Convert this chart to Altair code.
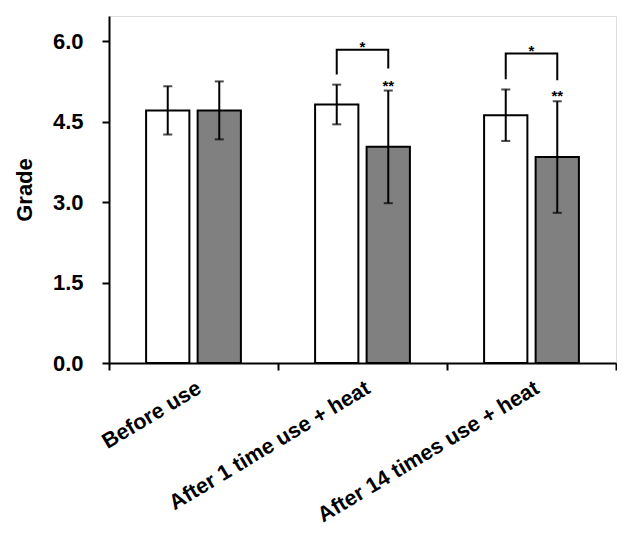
import altair as alt
import pandas as pd

categories = ["Before use", "After 1 time use + heat", "After 14 times use + heat"]
series = ["Series 1", "Series 2"]
white_means = [4.71, 4.82, 4.62]
white_err = [0.45, 0.37, 0.48]
gray_means = [4.71, 4.03, 3.84]
gray_err = [0.54, 1.05, 1.04]

# significance brackets (groups 2 and 3)
bracket_cats = ["After 1 time use + heat", "After 14 times use + heat"]
bracket_top = [5.84, 5.77]
bracket_left_bottom = [5.38, 5.29]
bracket_right_bottom = [5.49, 5.27]
bracket_label = ["*", "*"]
gray_label = ["**", "**"]

rows = []
for i, c in enumerate(categories):
    rows.append(dict(cat=c, ser=series[0], mean=white_means[i],
                     lo=white_means[i] - white_err[i], hi=white_means[i] + white_err[i]))
    rows.append(dict(cat=c, ser=series[1], mean=gray_means[i],
                     lo=gray_means[i] - gray_err[i], hi=gray_means[i] + gray_err[i]))
df = pd.DataFrame(rows)

br = []
for j, c in enumerate(bracket_cats):
    br.append(dict(cat=c, ser=series[0], y=bracket_left_bottom[j], o=0))
    br.append(dict(cat=c, ser=series[0], y=bracket_top[j], o=1))
    br.append(dict(cat=c, ser=series[1], y=bracket_top[j], o=2))
    br.append(dict(cat=c, ser=series[1], y=bracket_right_bottom[j], o=3))
br_df = pd.DataFrame(br)

star_df = pd.DataFrame(dict(cat=bracket_cats, y=bracket_top, t=bracket_label))
dstar_df = pd.DataFrame(dict(cat=bracket_cats, ser=[series[1]] * 2,
                             y=[gray_means[i] + gray_err[i] for i in (1, 2)], t=gray_label))

FONT = "Liberation Sans"

x_enc = alt.X("cat:N", sort=categories,
              scale=alt.Scale(paddingInner=0, paddingOuter=0),
              axis=alt.Axis(title=None, labelAngle=-31, labelAlign="right",
                            labelBaseline="top", tickBand="extent", tickSize=7,
                            tickWidth=2, tickColor="black", domainColor="black",
                            domainWidth=2, labelPadding=7, labelFont=FONT,
                            labelFontSize=21.5, labelFontWeight="bold",
                            labelColor="black", labelOverlap=False, labelLimit=0))
xo_enc = alt.XOffset("ser:N", sort=series,
                     scale=alt.Scale(paddingInner=0.16, paddingOuter=0.72))
y_scale = alt.Scale(domain=[0, 6.47], nice=False, zero=True)
y_enc = alt.Y("mean:Q", scale=y_scale,
              axis=alt.Axis(title="Grade", values=[0, 1.5, 3.0, 4.5, 6.0], format=".1f",
                            grid=False, tickSize=7, tickWidth=2, tickColor="black",
                            domainColor="black", domainWidth=2, labelPadding=19,
                            labelFont=FONT, labelFontSize=22, labelFontWeight="bold",
                            labelColor="black", titleFont=FONT, titleFontSize=22,
                            titleFontWeight="bold", titleColor="black", titlePadding=16))

bars = alt.Chart(df).mark_bar(stroke="black", strokeWidth=2).encode(
    x=x_enc, xOffset=xo_enc, y=y_enc,
    color=alt.Color("ser:N", scale=alt.Scale(domain=series, range=["white", "#808080"]),
                    legend=None))

err = alt.Chart(df).mark_rule(color="black", strokeWidth=2).encode(
    x=alt.X("cat:N", sort=categories), xOffset=alt.XOffset("ser:N", sort=series),
    y=alt.Y("lo:Q"), y2="hi:Q")
cap_hi = alt.Chart(df).mark_tick(color="black", size=9, thickness=2).encode(
    x=alt.X("cat:N", sort=categories), xOffset=alt.XOffset("ser:N", sort=series),
    y=alt.Y("hi:Q"))
cap_lo = alt.Chart(df).mark_tick(color="black", size=9, thickness=2).encode(
    x=alt.X("cat:N", sort=categories), xOffset=alt.XOffset("ser:N", sort=series),
    y=alt.Y("lo:Q"))

brackets = alt.Chart(br_df).mark_line(color="black", strokeWidth=2).encode(
    x=alt.X("cat:N", sort=categories), xOffset=alt.XOffset("ser:N", sort=series),
    y=alt.Y("y:Q"), detail="cat:N", order="o:Q")

stars = alt.Chart(star_df).mark_text(font=FONT, fontSize=15, fontWeight="bold",
                                     baseline="alphabetic", dy=2, color="black").encode(
    x=alt.X("cat:N", sort=categories), y=alt.Y("y:Q"), text="t:N")
dstars = alt.Chart(dstar_df).mark_text(font=FONT, fontSize=15, fontWeight="bold",
                                       baseline="alphabetic", dy=0, color="black").encode(
    x=alt.X("cat:N", sort=categories), xOffset=alt.XOffset("ser:N", sort=series),
    y=alt.Y("y:Q"), text="t:N")

chart = alt.layer(bars, err, cap_hi, cap_lo, brackets, stars, dstars).properties(
    width=507, height=347,
    autosize=alt.AutoSizeParams(type="none"),
    padding={"left": 101, "top": 8, "right": 1, "bottom": 165},
).configure_view(stroke="black", strokeWidth=2).configure(background="white")

chart.save("out.html", embed_options={"renderer": "svg", "actions": False})
